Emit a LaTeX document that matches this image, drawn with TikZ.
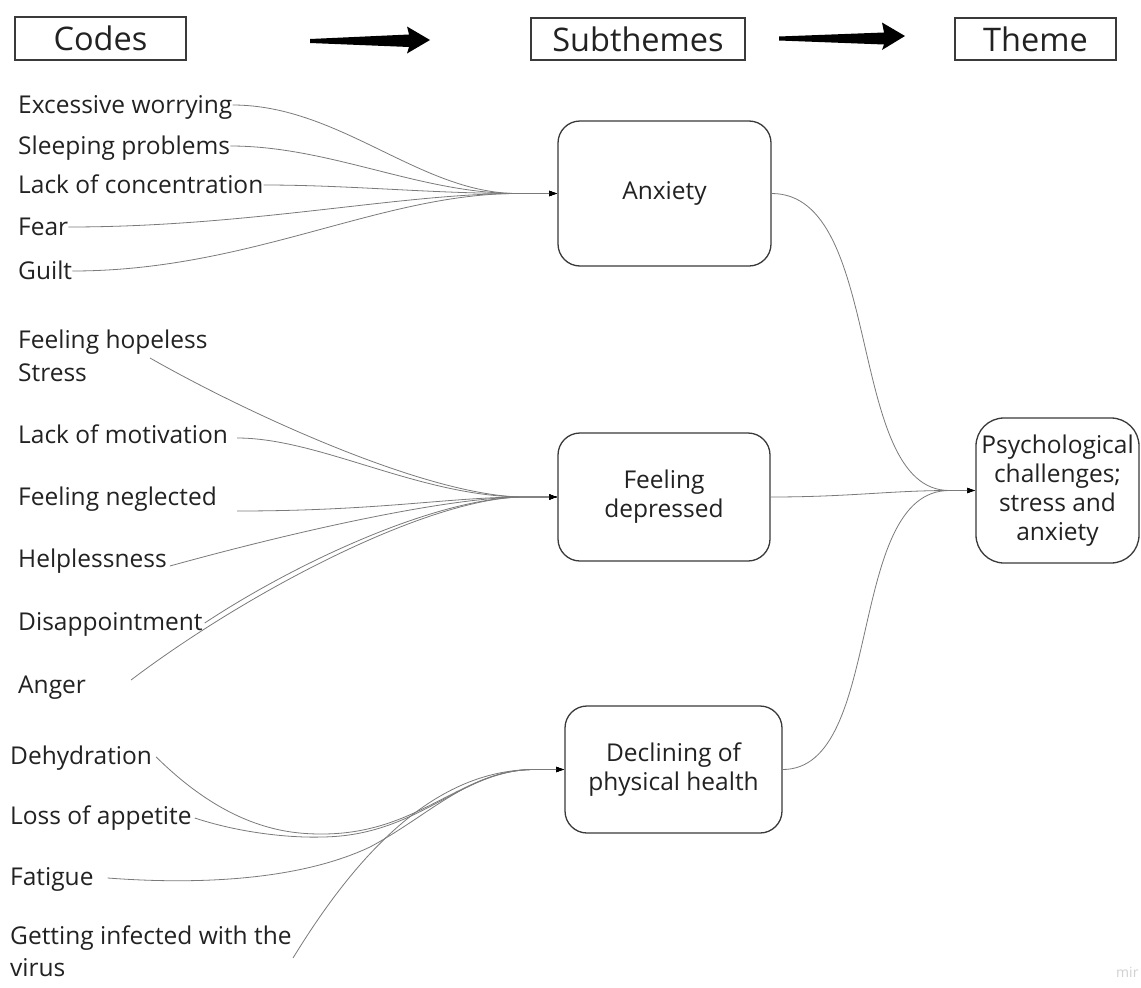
\documentclass[tikz,border=0pt]{standalone}
\usepackage{fontspec}
\setmainfont{Open Sans}
\usetikzlibrary{arrows.meta}
\definecolor{txt}{HTML}{222222}
\definecolor{edgec}{HTML}{7A7A7A}
\definecolor{framec}{HTML}{3A3A3A}
\begin{document}
\begin{tikzpicture}[x=1pt,y=-1pt,
  code/.style={anchor=west, inner sep=0pt, text=txt, font=\fontsize{24.5}{32}\selectfont, text height=17pt, text depth=1pt},
  codeml/.style={anchor=west, inner sep=0pt, text=txt, font=\fontsize{24.5}{32}\selectfont, align=left},
  subbox/.style={draw=framec, line width=1.3pt, rounded corners=22pt, align=center, text=txt, font=\fontsize{24.5}{29}\selectfont, inner sep=0pt},
  headbox/.style={draw=framec, line width=1.2pt, text=txt, font=\fontsize{32.5}{38}\selectfont, inner sep=0pt},
  link/.style={draw=edgec, line width=0.8pt, -{Latex[length=8pt,width=5.5pt,color=black]}}
]
\useasboundingbox (0,0) rectangle (1141,988);
\fill[white] (0,0) rectangle (1141,988);

% headers
\node[headbox, minimum width=171pt, minimum height=43pt] (hcodes) at (100.5,38.5) {Codes};
\node[headbox, minimum width=214pt, minimum height=42pt] (hsub) at (638,39) {Subthemes};
\node[headbox, minimum width=161pt, minimum height=42pt] (htheme) at (1035.5,39) {Theme};
\fill[black] (310,39) -- (409,34.5) -- (407,26.5) -- (430,40) -- (407,53.5) -- (409,47) -- (310,43) -- cycle;
\fill[black] (779,36.5) -- (884,32.5) -- (882,22.5) -- (905,36) -- (882,50) -- (884,44.5) -- (779,40.5) -- cycle;

% subtheme boxes
\node[subbox, minimum width=213pt, minimum height=145pt] (anx) at (664.5,193.5) {Anxiety};
\node[subbox, minimum width=212pt, minimum height=128pt] (dep) at (664,497) {Feeling\\depressed};
\node[subbox, minimum width=217pt, minimum height=127pt] (dec) at (673.5,769.5) {Declining of\\physical health};
\node[subbox, rounded corners=28pt, minimum width=163pt, minimum height=145pt] (psy) at (1057.5,490.5) {Psychological\\challenges;\\stress and\\anxiety};

% codes
\node[code] (ew) at (18,105) {Excessive worrying};
\node[code] (sp) at (18,146) {Sleeping problems};
\node[code] (lc) at (18,185) {Lack of concentration};
\node[code] (fe) at (18,227) {Fear};
\node[code] (gu) at (18,271) {Guilt};
\node[code] (fh) at (18,340) {Feeling hopeless};
\node[code] (st) at (18,373) {Stress};
\node[code] (lm) at (18,435) {Lack of motivation};
\node[code] (fn) at (18,497) {Feeling neglected};
\node[code] (hl) at (18,559) {Helplessness};
\node[code] (di) at (18,622) {Disappointment};
\node[code] (an) at (18,685) {Anger};
\node[code] (de) at (10,756) {Dehydration};
\node[code] (lo) at (10,816) {Loss of appetite};
\node[code] (fa) at (10,877) {Fatigue};
\node[codeml] (gi) at (10,951) {Getting infected with the\\virus};

% free ends
\coordinate (fhs) at (150,358);
\coordinate (fns) at (237,511);
\coordinate (ans) at (131,680);
\coordinate (gis) at (293,958);
\coordinate (c1) at ([xshift=-40pt]anx.west);
\coordinate (c2) at ([xshift=-33pt]dep.west);
\coordinate (c3) at ([xshift=-30pt]dec.west);
\coordinate (c4) at ([xshift=-26pt]psy.west);

% anxiety group
\draw[link] (ew.east) .. controls (340,105) and (420,193.5) .. (c1) -- (anx.west);
\draw[link] (sp.east) .. controls (330,146) and (420,193.5) .. (c1) -- (anx.west);
\draw[link] (lc.east) .. controls (350,185) and (430,193.5) .. (c1) -- (anx.west);
\draw[link] (fe.east) .. controls (250,227) and (400,193.5) .. (c1) -- (anx.west);
\draw[link] (gu.east) .. controls (250,271) and (380,193.5) .. (c1) -- (anx.west);

% depressed group
\draw[link] (fhs) .. controls (250,415) and (430,497) .. (c2) -- (dep.west);
\draw[link] ([xshift=9pt,yshift=-3pt]lm.east) .. controls (320,438) and (420,497) .. (c2) -- (dep.west);
\draw[link] (fns) .. controls (380,511) and (450,497) .. (c2) -- (dep.west);
\draw[link] ([xshift=3pt,yshift=-7pt]hl.east) .. controls (300,530) and (450,497) .. (c2) -- (dep.west);
\draw[link] ([xshift=2pt,yshift=-1pt]di.east) .. controls (300,560) and (440,497) .. (c2) -- (dep.west);
\draw[link] (ans) .. controls (250,590) and (430,497) .. (c2) -- (dep.west);

% declining group
\draw[link] ([xshift=4pt,yshift=-1pt]de.east) .. controls (230,830) and (290,834) .. (322,834) .. controls (420,834) and (460,769.5) .. (c3) -- (dec.west);
\draw[link] ([xshift=3pt,yshift=-2pt]lo.east) .. controls (240,833) and (290,838) .. (322,837) .. controls (420,836) and (460,769.5) .. (c3) -- (dec.west);
\draw[link] ([xshift=14pt,yshift=-1pt]fa.east) .. controls (200,885) and (300,880) .. (370,847) .. controls (430,815) and (470,769.5) .. (c3) -- (dec.west);
\draw[link] (gis) .. controls (352,862) and (430,769.5) .. (c3) -- (dec.west);

% to theme
\draw[link] (anx.east) .. controls (885,193.5) and (845,490.5) .. (c4) -- (psy.west);
\draw[link] (dep.east) .. controls (850,497) and (890,490.5) .. (c4) -- (psy.west);
\draw[link] (dec.east) .. controls (885,769.5) and (845,490.5) .. (c4) -- (psy.west);

% watermark
\node[anchor=west, inner sep=0pt, text=black!18, font=\fontsize{14}{16}\selectfont] (wm) at (1116,972) {mir};
\end{tikzpicture}
\end{document}
